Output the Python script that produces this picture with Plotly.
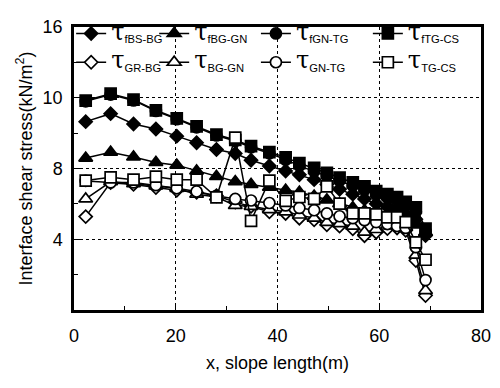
import plotly.graph_objects as go

# slope positions (m)
x_pos = [2.3, 7.2, 11.7, 16.1, 20.2, 24.1, 28.0, 31.7, 34.8, 38.4, 41.6, 44.3,
         47.2, 49.7, 52.2, 54.8, 57.1, 59.4, 61.6, 63.5, 65.2, 67.2, 69.1]

# interface shear stresses (kN/m2)
tau_f_bs_bg = [10.65, 11.10, 10.52, 10.23, 9.83, 9.46, 9.07, 8.85, 8.47, 8.14, 7.86, 7.65,
               7.37, 7.10, 6.83, 6.55, 6.28, 6.01, 5.84, 5.63, 5.41, 5.13, 4.21]
tau_f_bg_gn = [8.59, 8.92, 8.65, 8.34, 8.19, 7.86, 7.55, 7.26, 7.10, 6.94, 6.77, 6.66,
               6.44, 6.23, 6.01, 5.79, 5.63, 5.46, 5.30, 5.13, 4.97, 4.81, 4.40]
tau_f_gn_tg = [11.80, 12.18, 11.85, 11.25, 10.79, 10.33, 9.87, 9.55, 9.20, 8.86, 8.50, 8.15,
               7.85, 7.58, 7.30, 7.02, 6.78, 6.52, 6.35, 6.15, 5.90, 5.55, 4.45]
tau_f_tg_cs = [11.84, 12.23, 11.89, 11.29, 10.83, 10.38, 9.92, 9.61, 9.26, 8.93, 8.63, 8.30,
               8.03, 7.76, 7.48, 7.21, 6.99, 6.72, 6.55, 6.39, 6.12, 5.80, 4.60]
tau_gr_bg = [5.28, 7.20, 7.10, 6.92, 6.77, 6.65, 6.46, 6.10, 5.86, 5.55, 5.46, 5.19,
             5.10, 4.82, 4.74, 4.59, 4.20, 4.40, 4.60, 4.64, 4.50, 2.80, 0.82]
tau_bg_gn = [6.28, 7.25, 7.14, 7.01, 6.88, 6.55, 6.39, 5.91, 5.86, 5.68, 5.55, 5.37,
             5.19, 4.95, 4.88, 4.74, 4.40, 4.55, 4.75, 4.80, 4.70, 3.10, 1.10]
tau_gn_tg = [7.30, 7.21, 7.21, 7.06, 6.88, 6.70, 6.46, 6.28, 6.19, 6.05, 5.91, 5.77,
             5.64, 5.46, 5.30, 5.19, 5.08, 4.97, 4.86, 4.75, 4.64, 3.55, 1.69]
tau_tg_cs = [7.32, 7.50, 7.37, 7.54, 7.37, 7.37, 6.37, 9.74, 5.04, 7.32, 6.17, 6.39,
             6.28, 6.99, 6.01, 5.46, 5.46, 5.41, 5.24, 5.24, 4.97, 3.82, 2.84]

x_ticks = [0, 20, 40, 60, 80]
y_tickvals = [4, 8, 12, 16]
y_ticktext = ["4", "8", "10", "16"]


def lbl(sub):
    return ('<span style="font-family:DejaVu Serif;font-size:24px">τ</span>'
            '<sub>' + sub + '</sub>')


series = [
    ("fBS-BG", tau_f_bs_bg, "diamond", 10, True, "legend"),
    ("fBG-GN", tau_f_bg_gn, "triangle-up", 12, True, "legend2"),
    ("fGN-TG", tau_f_gn_tg, "circle", 11, True, "legend3"),
    ("fTG-CS", tau_f_tg_cs, "square", 11, True, "legend4"),
    ("GR-BG", tau_gr_bg, "diamond", 10, False, "legend"),
    ("BG-GN", tau_bg_gn, "triangle-up", 12, False, "legend2"),
    ("GN-TG", tau_gn_tg, "circle", 11, False, "legend3"),
    ("TG-CS", tau_tg_cs, "square", 11, False, "legend4"),
]

fig = go.Figure()
for sub, vals, sym, size, filled, leg in series:
    fig.add_trace(go.Scatter(
        x=x_pos, y=vals, mode="lines+markers", name=lbl(sub),
        legend=leg, legendgroup=sub,
        line=dict(color="black", width=1.5),
        marker=dict(symbol=sym, size=size,
                    color="black" if filled else "white",
                    line=dict(color="black", width=1.7)),
    ))

legfont = dict(family="Liberation Sans", size=16, color="black")
common = dict(orientation="v", yanchor="top", xanchor="left", font=legfont,
              bgcolor="rgba(0,0,0,0)", borderwidth=0, traceorder="grouped",
              tracegroupgap=5)
ytop = 1.037
fig.update_layout(
    legend=dict(x=-0.007, y=ytop, **common),
    legend2=dict(x=0.197, y=ytop, **common),
    legend3=dict(x=0.447, y=ytop, **common),
    legend4=dict(x=0.722, y=ytop, **common),
)

axfont = dict(family="Liberation Sans", size=18, color="black")
fig.update_xaxes(
    range=[0, 80], tickmode="array", tickvals=x_ticks,
    ticks="inside", ticklen=6, tickcolor="black", tickwidth=1,
    minor=dict(tickmode="linear", tick0=0, dtick=10, ticks="inside", ticklen=4,
               tickcolor="black", showgrid=False),
    showgrid=True, gridcolor="black", griddash="dot", gridwidth=1,
    zeroline=False, showline=True, linecolor="black", linewidth=2.5, mirror=True,
    tickfont=axfont, ticklabelstandoff=8,
    title=dict(text="x, slope length(m)", font=axfont, standoff=12),
)
fig.update_yaxes(
    range=[0, 16], tickmode="array", tickvals=y_tickvals, ticktext=y_ticktext,
    ticks="inside", ticklen=6, tickcolor="black", tickwidth=1,
    minor=dict(tickmode="linear", tick0=0, dtick=2, ticks="inside", ticklen=4,
               tickcolor="black", showgrid=False),
    showgrid=True, gridcolor="black", griddash="dot", gridwidth=1,
    zeroline=False, showline=True, linecolor="black", linewidth=2.5, mirror=True,
    tickfont=axfont, ticklabelstandoff=5,
    title=dict(text="Interface shear stress(kN/m<sup>2</sup>)", font=axfont, standoff=6),
)

# page body has an 8px margin, so the figure is sized/offset to compensate
fig.update_layout(
    width=492, height=380,
    margin=dict(l=66, r=14, t=9, b=78),
    paper_bgcolor="white", plot_bgcolor="white",
    font=dict(family="Liberation Sans", color="black"),
)

fig.write_html("out.html")
